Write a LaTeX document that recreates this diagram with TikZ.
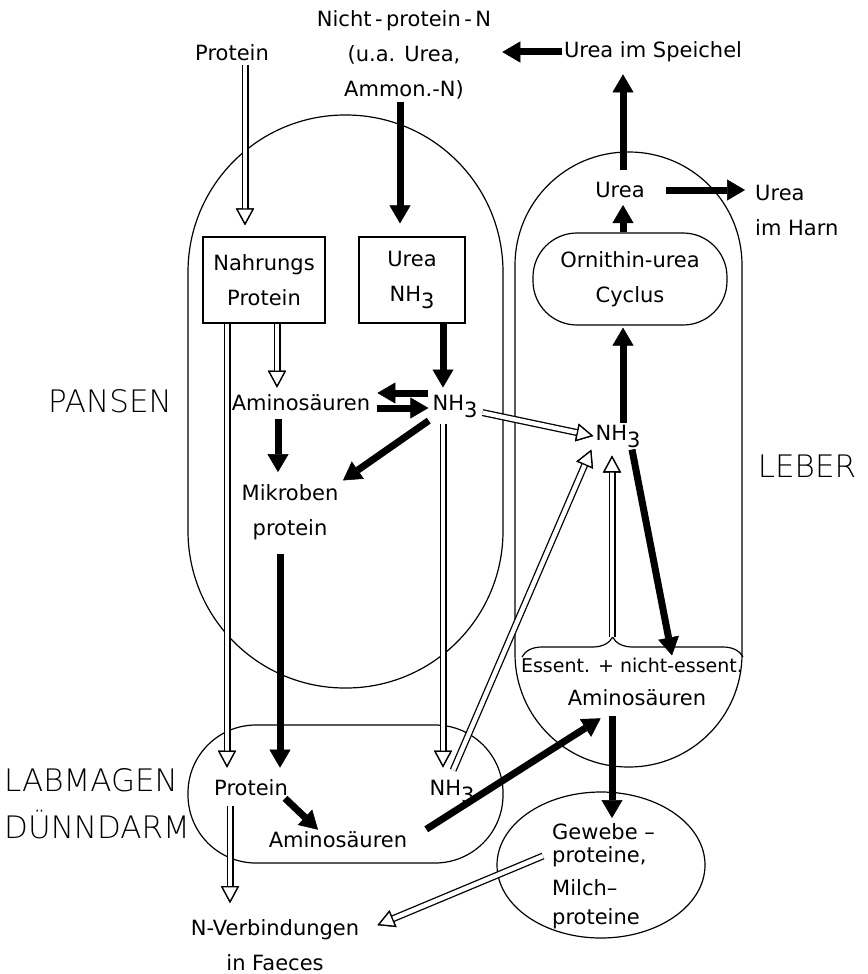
\documentclass[tikz,border=0pt]{standalone}
\usepackage{fontspec}
\setmainfont{DejaVu Sans}
\newfontfamily\grossfont{DejaVu Sans ExtraLight}
\usetikzlibrary{arrows.meta,decorations.pathreplacing}

\newcommand\nhdrei{NH\raisebox{-7pt}{3}}

\tikzset{
  voll/.tip={Triangle[length=18pt, width=21pt, line width=0.5pt]},
  hohl/.tip={Triangle[open, color=black, fill=white, line width=1.3pt, length=17pt, width=18pt]},
}

\begin{document}
\begin{tikzpicture}[x=1pt, y=-1pt,
  txt/.style={inner sep=2pt, align=center, font=\fontsize{21}{35}\selectfont},
  gross/.style={inner sep=0pt, font=\grossfont\fontsize{31}{31}\selectfont},
  kasten/.style={txt, draw, line width=1.2pt, minimum width=#1, minimum height=86pt},
  umriss/.style={line width=1.2pt},
  schwarz/.style={line width=7pt, -voll},
  hohlpfeil/.style={draw=white, line width=4.4pt, -hohl, preaction={draw=black, line width=7pt, -hohl}}]
\useasboundingbox (0,0) rectangle (867,974);

\draw[umriss, rounded corners=157pt] (188,115) rectangle (503,688);
\draw[umriss, rounded corners=113pt] (515,152) rectangle (742,767);
\draw[umriss, rounded corners=68pt] (188,725) rectangle (503,863);
\draw[umriss] (601,865) ellipse [x radius=104pt, y radius=73pt];
\draw[umriss, decorate, decoration={brace, amplitude=20pt, aspect=0.41}] (522,657) -- (743,657);
\coordinate (spitze) at (612,637);

\node[gross] (pansen) at (110,401) {PANSEN};
\node[gross] (leber) at (807,466) {LEBER};
\node[gross, anchor=west] (labmagen) at (4,780) {LABMAGEN};
\node[gross, anchor=west] (duenndarm) at (4,825) {DÜNNDARM};

\node[txt] (protA) at (232,53) {Protein};
\node[txt] (npn) at (404,55) {Nicht\,-\,protein\,-\,N\\(u.a. Urea,\\Ammon.-N)};
\node[txt] (speichel) at (653,52) {Urea im Speichel};
\node[txt] (ureaL) at (620,190) {Urea};
\node[txt, align=left, anchor=west] (harn) at (753,210) {Urea\\im Harn};
\node[txt, draw, line width=1.2pt, rounded corners=44pt, minimum width=194pt, minimum height=92pt] (orn) at (630,279) {Ornithin-urea\\Cyclus};
\node[txt] (nhR) at (618,436) {\nhdrei};

\node[kasten=122pt] (nahrung) at (264,280) {Nahrungs\\Protein};
\node[kasten=106pt] (ureabox) at (412,280) {Urea\\\nhdrei};
\node[txt] (amP) at (301,403) {Aminosäuren};
\node[txt] (nhP) at (455,406) {\nhdrei};
\node[txt] (mikro) at (290,512) {Mikroben\\protein};

\node[txt] (protL) at (251,788) {Protein};
\node[txt] (amL) at (338,840) {Aminosäuren};
\node[txt] (nhL) at (452,791) {\nhdrei};
\node[txt] (nverb) at (275,945) {N-Verbindungen\\in Faeces};

\node[txt, font=\fontsize{19}{35}\selectfont] (essent) at (632,665) {Essent. + nicht-essent.};
\node[txt] (amLeber) at (637,698) {Aminosäuren};
\node[txt, align=left, anchor=north west, font=\fontsize{21}{28}\selectfont] (gewebe) at (550,821) {Gewebe –\\[-5pt]proteine,\\[5pt]Milch–\\[1pt]proteine};

\draw[hohlpfeil, shorten <=2pt, shorten >=11pt] ([xshift=13pt]protA.south) -- ([xshift=-19pt]nahrung.north);
\draw[hohlpfeil, shorten >=5pt] ([xshift=13pt]nahrung.south) -- ([xshift=-24pt]amP.north);
\draw[hohlpfeil, shorten >=10pt] ([xshift=-37pt]nahrung.south) -- ([xshift=-24pt]protL.north);
\draw[hohlpfeil, shorten <=4pt, shorten >=10pt] ([xshift=-12pt]nhP.south) -- ([xshift=-9pt]nhL.north);
\draw[hohlpfeil, shorten <=3pt] ([yshift=-6pt]nhP.east) -- (nhR.west);
\draw[hohlpfeil, shorten <=8pt] ([xshift=-2pt]nhL.north) -- ([xshift=-2pt]nhR.south west);
\draw[hohlpfeil, shorten >=6pt] (spitze) -- ([xshift=-6pt]nhR.south);
\draw[hohlpfeil, shorten <=8pt, shorten >=14pt] ([xshift=-21pt]protL.south) -- ([xshift=-45pt]nverb.north);
\draw[hohlpfeil] ([xshift=-7pt, yshift=-35pt]gewebe.north west) -- ([xshift=16pt, yshift=-8pt]nverb.north east);

\draw[schwarz, shorten >=13pt] ([xshift=-4pt]npn.south) -- ([xshift=-12pt]ureabox.north);
\draw[schwarz, shorten >=5pt] ([xshift=31pt]ureabox.south) -- ([xshift=-12pt]nhP.north);
\draw[schwarz, shorten <=2pt, shorten >=5pt] ([yshift=13pt]nhP.west) -- ([yshift=13pt]nhP.west -| amP.east);
\draw[schwarz, shorten <=5pt, shorten >=2pt] ([yshift=-5pt]amP.east) -- ([yshift=-5pt]amP.east -| nhP.west);
\draw[schwarz, shorten <=2pt, shorten >=3pt] (nhP.south west) -- (mikro.north east);
\draw[schwarz, shorten <=6pt, shorten >=10pt] ([xshift=-23pt]amP.south) -- ([xshift=-12pt]mikro.north);
\draw[schwarz, shorten <=12pt, shorten >=10pt] ([xshift=-10pt]mikro.south) -- ([xshift=29pt]protL.north);
\draw[schwarz] ([xshift=-5pt]protL.south east) -- ([xshift=-20pt]amL.north);
\draw[schwarz, shorten <=20pt] (amL.east) -- ([xshift=35pt, yshift=-10pt]amLeber.south west);
\draw[schwarz, shorten <=8pt, shorten >=3pt] ([xshift=-25pt]amLeber.south) -- ([xshift=62pt]gewebe.north west);
\draw[schwarz] ([xshift=14pt]nhR.south) -- ([xshift=40pt]essent.north);
\draw[schwarz, shorten >=2pt] ([xshift=5pt]nhR.north) -- ([xshift=-7pt]orn.south);
\draw[schwarz, shorten >=5pt] ([xshift=-7pt]orn.north) -- ([xshift=3pt]ureaL.south);
\draw[schwarz, shorten <=10pt, shorten >=10pt] ([xshift=3pt]ureaL.north) -- ([xshift=-30pt]speichel.south);
\draw[schwarz, shorten <=19pt, shorten >=8pt] (ureaL.east) -- (ureaL.east -| harn.west);
\draw[schwarz, shorten >=9pt] (speichel.west) -- (speichel.west -| npn.east);
\end{tikzpicture}
\end{document}
